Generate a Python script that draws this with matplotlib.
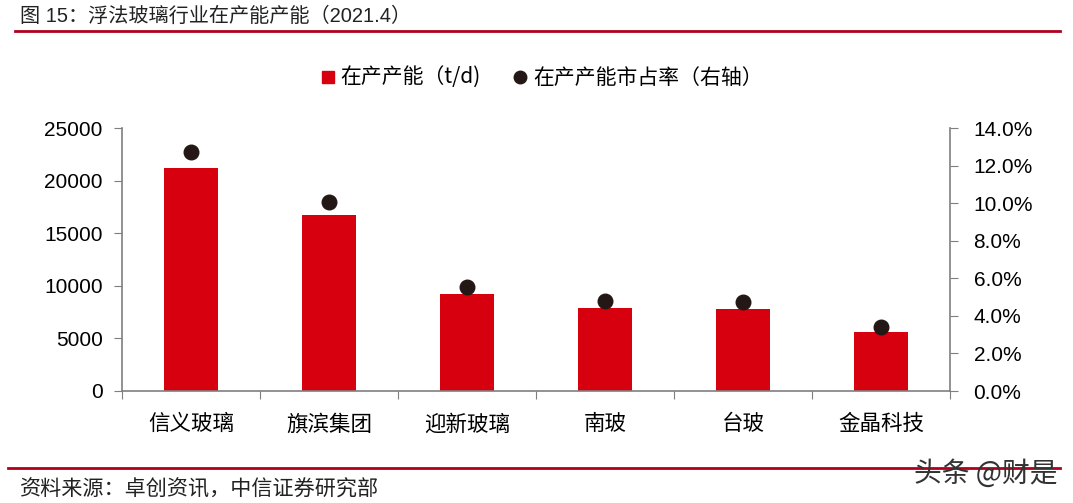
import matplotlib
matplotlib.use("Agg")
import matplotlib.pyplot as plt
from matplotlib.lines import Line2D
from matplotlib.ticker import FuncFormatter

plt.rcParams['font.family'] = ['Liberation Sans', 'Noto Sans CJK SC', 'DejaVu Sans']

categories = ['信义玻璃', '旗滨集团', '迎新玻璃', '南玻', '台玻', '金晶科技']
capacity = [21200, 16700, 9200, 7900, 7800, 5600]
share = [12.7, 10.05, 5.55, 4.8, 4.75, 3.4]
left_ticks = [0, 5000, 10000, 15000, 20000, 25000]
right_ticks = [0, 2, 4, 6, 8, 10, 12, 14]

red = '#D7000F'
gray = '#7f7f7f'
cjk = ['Noto Sans CJK SC', 'Liberation Sans', 'DejaVu Sans']
latin = ['Liberation Sans', 'Noto Sans CJK SC', 'DejaVu Sans']

fig = plt.figure(figsize=(10.73, 5.03), dpi=100)
ax = fig.add_axes([122/1073, 1-391/503, 828/1073, 263/503])
x = list(range(len(categories)))
ax.bar(x, capacity, width=0.39, color=red, zorder=2)
ax.set_xlim(-0.5, len(categories)-0.5)
ax.set_ylim(0, 25000)
ax.set_yticks(left_ticks)
ax.set_xticks([i-0.5 for i in range(len(categories)+1)])
ax.set_xticks(x, minor=True)
ax.set_xticklabels([])
ax.set_xticklabels(categories, minor=True, fontfamily=cjk, fontsize=15.5)
ax.tick_params(axis='x', which='minor', length=0, pad=16)
ax.tick_params(axis='x', which='major', length=6, direction='out', color=gray)
ax.tick_params(axis='y', length=6, direction='out', color=gray, labelsize=15, pad=8)
for s in ['top', 'right']:
    ax.spines[s].set_visible(False)
for s in ['left', 'bottom']:
    ax.spines[s].set_color(gray)
    ax.spines[s].set_linewidth(1.2)

ax2 = ax.twinx()
ax2.scatter(x, share, s=110, color='#231815', zorder=3)
ax2.set_ylim(0, 14)
ax2.set_yticks(right_ticks)
ax2.yaxis.set_major_formatter(FuncFormatter(lambda v, p: f'{v:.1f}%'))
ax2.tick_params(axis='y', length=6, direction='out', color=gray, labelsize=15, pad=11)
for s in ['top', 'left', 'bottom']:
    ax2.spines[s].set_visible(False)
ax2.spines['right'].set_color(gray)
ax2.spines['right'].set_linewidth(1.2)

handles = [Line2D([], [], marker='s', linestyle='none', color=red, markersize=8),
           Line2D([], [], marker='o', linestyle='none', color='#231815', markersize=9)]
fig.legend(handles, ['在产产能（t/d)', '在产产能市占率（右轴）'], loc='center',
           bbox_to_anchor=(540/1073, 1-78/503), ncol=2, frameon=False,
           prop={'family': cjk, 'size': 15}, handletextpad=0.1, columnspacing=1.4,
           handlelength=1.0)

fig.text(20/1073, 1-16/503, '图 15：浮法玻璃行业在产能产能（2021.4）', fontfamily=latin,
         fontsize=14.5, va='center', ha='left', color='#222222')
fig.add_artist(Line2D([15/1073, 1060/1073], [1-31/503, 1-31/503], color='#B0001E', lw=2))
fig.add_artist(Line2D([8/1073, 1060/1073], [1-468/503, 1-468/503], color='#B0001E', lw=2))
fig.text(20/1073, 1-490/503, '资料来源：卓创资讯，中信证券研究部', fontfamily=cjk,
         fontsize=15.2, va='center', ha='left', color='#222222')
fig.text(1058/1073, 1-474/503, '头条 @财是', fontfamily=cjk, fontsize=20,
         va='center', ha='right', color='#333333')

fig.savefig('out.png', dpi=100)
